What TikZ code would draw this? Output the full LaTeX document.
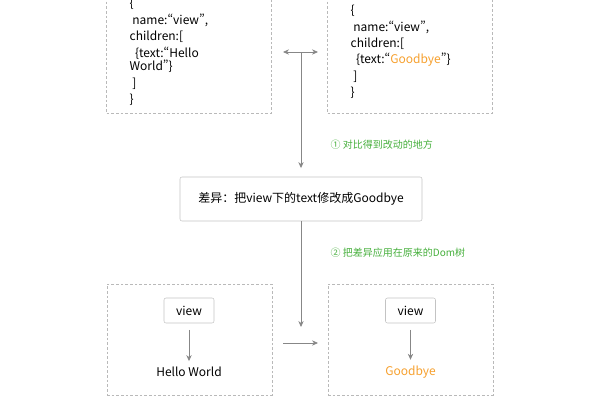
\documentclass[tikz,border=0pt]{standalone}
\usepackage{fontspec}
\setmainfont{Noto Sans CJK SC}
\newfontfamily\quotefont[RawFeature=+pwid]{Noto Sans CJK SC}
\newcommand{\openq}{{\quotefont“}}
\newcommand{\closeq}{{\quotefont”}}
\usetikzlibrary{arrows.meta}

\definecolor{lineGray}{RGB}{135,135,135}
\definecolor{dashGray}{RGB}{185,185,185}
\definecolor{boxGray}{RGB}{195,195,195}
\definecolor{noteGreen}{RGB}{70,175,60}
\definecolor{newOrange}{RGB}{246,160,46}

\tikzset{
  treebox/.style={draw=dashGray,dash pattern=on 2pt off 1.5pt,minimum width=123.75pt,minimum height=83.25pt},
  jsonbox/.style={draw=dashGray,dash pattern=on 2pt off 1.5pt,text width=89pt,inner xsep=17.25pt,
                  minimum height=91.5pt,align=left},
  diffbox/.style={draw=boxGray,rounded corners=1.5pt,minimum width=181.5pt,minimum height=33pt},
  viewbox/.style={draw=boxGray,rounded corners=1.5pt,minimum width=37.5pt,minimum height=18.75pt},
  note/.style={text=noteGreen,font=\fontsize{7.5}{9}\selectfont,anchor=west},
  conn/.style={draw=lineGray,line width=0.6pt},
}

\begin{document}
\begin{tikzpicture}[x=0.75pt,y=-0.75pt,>={Stealth[length=4.5pt,width=4pt]},
  font=\fontsize{9}{12.3}\selectfont]
\clip (0,0) rectangle (600,400);

% {old and new json};
\node[jsonbox] (oldJson) at (189,52) {%
\{\\
\hspace{2pt}name:\openq view\closeq,\\
children:[\\
\hspace{4pt}\{text:\openq Hello\\[-2pt]
World\closeq\}\\
\hspace{2pt}]\\
\}};
\node[jsonbox] (newJson) at (410,52) {%
\{\\
\hspace{2pt}name:\openq view\closeq,\\
children:[\\
\hspace{4pt}\{text:\openq\textcolor{newOrange}{Goodbye}\closeq\}\\
\hspace{2pt}]\\
\}};

\coordinate (swapL) at (283,52);
\coordinate (swapR) at (318,52);
\coordinate (swapM) at (301,52);
\draw[conn,<->] (swapL) -- (swapR);

% {diff};
\node[diffbox] (diff) at (301,199) {差异：把view下的text修改成Goodbye};
\draw[conn,->,shorten >=6.5pt] (swapM) -- (diff);
\node[note] (stepOne) at (326,145) {① 对比得到改动的地方};

\coordinate (applyEnd) at (301,327);
\draw[conn,->] (diff) -- (applyEnd);
\node[note] (stepTwo) at (326,253) {② 把差异应用在原来的Dom树};

% {old and new tree};
\node[treebox] (oldTree) at (189.5,339.5) {};
\node[viewbox] (oldView) at (189,310.5) {view};
\node (oldText) at (189,372) {Hello World};
\draw[conn,->,shorten <=5pt,shorten >=1pt] (oldView) -- (oldText);

\node[treebox] (newTree) at (410.5,339.5) {};
\node[viewbox] (newView) at (410.5,310.5) {view};
\node[text=newOrange] (newText) at (410.5,372) {Goodbye};
\draw[conn,->,shorten <=5pt,shorten >=1pt] (newView) -- (newText);

\coordinate (mergeL) at (283,343);
\coordinate (mergeR) at (318,343);
\draw[conn,->] (mergeL) -- (mergeR);

\end{tikzpicture}
\end{document}
